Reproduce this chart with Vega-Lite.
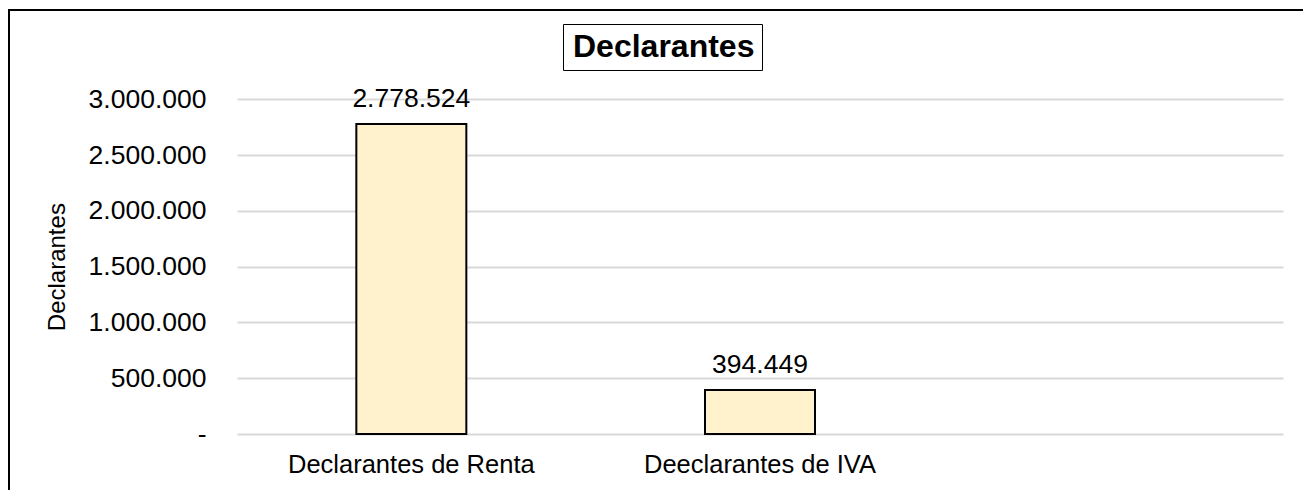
{
  "$schema": "https://vega.github.io/schema/vega-lite/v6.json",
  "width": 1306,
  "height": 490,
  "autosize": {"type": "none"},
  "padding": {"left": 9, "top": 10, "right": 0, "bottom": 0},
  "background": "white",
  "config": {
    "font": "Liberation Sans",
    "locale": {"number": {"decimal": ",", "thousands": ".", "grouping": [3], "currency": ["", ""]}},
    "view": {"stroke": "black", "strokeWidth": 2, "fill": "white"}
  },
  "data": {
    "values": [
      {"categoria": "Declarantes de Renta", "declarantes": 2778524},
      {"categoria": "Deeclarantes de IVA", "declarantes": 394449}
    ]
  },
  "encoding": {
    "x": {
      "field": "categoria",
      "type": "nominal",
      "sort": null,
      "scale": {
        "domain": ["Declarantes de Renta", "Deeclarantes de IVA", " "],
        "range": [228, 1274],
        "paddingInner": 0.6845,
        "paddingOuter": 0.34225
      },
      "axis": {
        "orient": "bottom",
        "offset": -66,
        "title": null,
        "labelAngle": 0,
        "labelFontSize": 25.5,
        "labelColor": "black",
        "labelPadding": 18,
        "labelLimit": 500,
        "ticks": false,
        "domain": false,
        "grid": false
      }
    },
    "y": {
      "field": "declarantes",
      "type": "quantitative",
      "scale": {"domain": [0, 3000000], "range": [424, 89.3], "nice": false},
      "axis": {
        "offset": -228,
        "title": "Declarantes",
        "titleFontSize": 24,
        "titleFontWeight": "normal",
        "titleColor": "black",
        "titlePadding": 19,
        "values": [0, 500000, 1000000, 1500000, 2000000, 2500000, 3000000],
        "labelExpr": "datum.value == 0 ? '-' : format(datum.value, ',.0f')",
        "labelFontSize": 26.5,
        "labelColor": "black",
        "labelPadding": 31,
        "ticks": false,
        "domain": false,
        "grid": true,
        "gridColor": "#d9d9d9",
        "gridWidth": 2
      }
    }
  },
  "layer": [
    {
      "mark": {"type": "bar", "stroke": "black", "strokeWidth": 2},
      "encoding": {
        "color": {
          "datum": "Declarantes",
          "scale": {"range": ["#FFF2CC"]},
          "legend": {
            "orient": "none",
            "legendX": 554,
            "legendY": 14,
            "title": null,
            "strokeColor": "black",
            "padding": 7,
            "symbolSize": 0,
            "symbolOpacity": 0,
            "symbolStrokeWidth": 0,
            "labelOffset": -29,
            "labelFontSize": 32,
            "labelFontWeight": "bold",
            "labelColor": "black",
            "labelLimit": 400,
            "encode": {"legend": {"update": {"strokeWidth": {"value": 2}}}}
          }
        }
      }
    },
    {
      "mark": {"type": "text", "fontSize": 26.5, "color": "black", "baseline": "alphabetic", "dy": -17},
      "encoding": {
        "text": {"field": "declarantes", "type": "quantitative", "format": ",.0f"}
      }
    }
  ]
}
